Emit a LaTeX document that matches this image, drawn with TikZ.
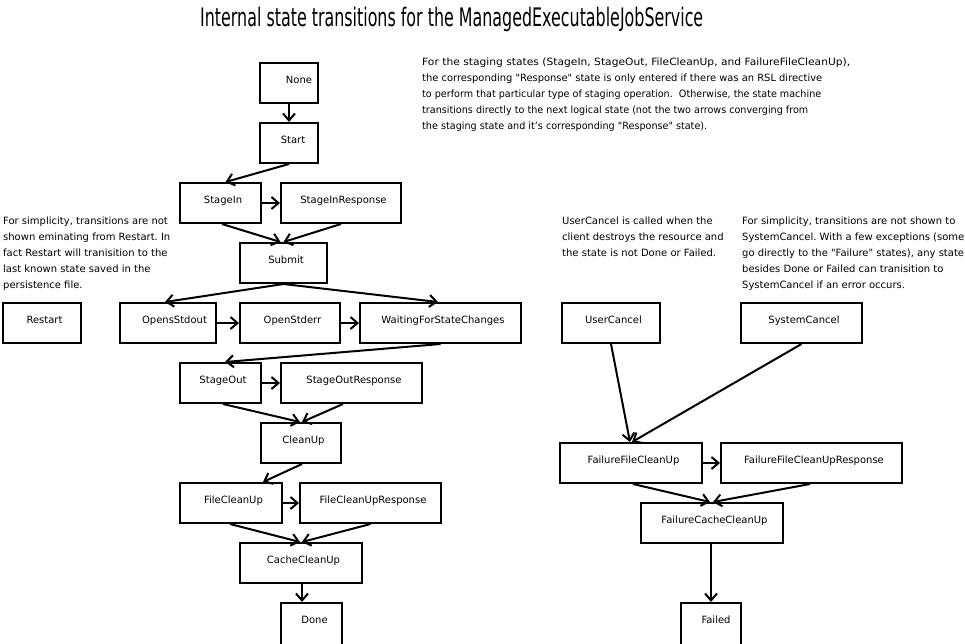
\documentclass[tikz,border=0pt]{standalone}
\usepackage{fontspec}
\setmainfont{DejaVu Sans}
\usepackage{graphicx}
\usetikzlibrary{arrows.meta}
\frenchspacing
\tikzset{
  box/.style={draw=black, line width=2pt, inner sep=0pt, text height=7pt, text depth=5.6pt,
    font=\fontsize{10}{12}\selectfont},
  arr/.style={draw=black, line width=2pt, -{Straight Barb[length=7pt,width=12pt]}},
  note/.style={anchor=base west, inner sep=0pt, font=\fontsize{10}{16}\selectfont},
}
\newcommand{\bx}[6]{\node[box, minimum width=#4pt, minimum height=#5pt] (#1) at (#2,#3) {\hspace*{5pt}#6};}
\newcommand{\fitline}[2]{\resizebox{#1pt}{\height}{#2}}
\newcommand{\q}{\textquotedbl}
\begin{document}
\begin{tikzpicture}[x=1pt,y=-1pt]
\useasboundingbox (0,0) rectangle (965,643);
\clip (0,0) rectangle (965,643);
\fill[white] (0,0) rectangle (965,643);

\node[anchor=base west, inner sep=0pt, font=\fontsize{25.5}{30}\selectfont] (title) at (200,26)
  {\resizebox{503pt}{\height}{Internal state transitions for the ManagedExecutableJobService}};

\node[note] (stagingnote) at (422,65) {\parbox[t]{520pt}{\raggedright
\fitline{428}{For the staging states (StageIn, StageOut, FileCleanUp, and FailureFileCleanUp),}\\
\fitline{400}{the corresponding \q Response\q{} state is only entered if there was an RSL directive}\\
\fitline{399}{to perform that particular type of staging operation.~ Otherwise, the state machine}\\
\fitline{386}{transitions directly to the next logical state (not the two arrows converging from}\\
\fitline{285}{the staging state and it's corresponding \q Response\q{} state).}}};

\node[note] (restartnote) at (3,224) {\parbox[t]{240pt}{\raggedright
For simplicity, transitions are not\\
shown eminating from Restart. In\\
fact Restart will tranisition to the\\
last known state saved in the\\
persistence file.}};

\node[note] (usernote) at (562,224) {\parbox[t]{180pt}{\raggedright
UserCancel is called when the\\
client destroys the resource and\\
the state is not Done or Failed.}};

\node[note] (systemnote) at (742,224) {\parbox[t]{230pt}{\raggedright
For simplicity, transitions are not shown to\\
SystemCancel. With a few exceptions (some\\
go directly to the \q Failure\q{} states), any state\\
besides Done or Failed can tranisition to\\
SystemCancel if an error occurs.}};

\bx{none}{289}{83}{58}{40}{\hspace*{15pt}None}
\bx{start}{289}{143}{58}{40}{\hspace*{3pt}Start}
\bx{stagein}{220.5}{203}{81}{40}{StageIn}
\bx{stageinresp}{341}{203}{120}{40}{StageInResponse}
\bx{submit}{283.5}{263}{87}{40}{Submit}
\bx{restart}{42}{323}{78}{40}{Restart}
\bx{opensstdout}{168}{323}{96}{40}{\hspace*{8pt}OpensStdout}
\bx{openstderr}{290}{323}{100}{40}{OpenStderr}
\bx{waiting}{440.5}{323}{161}{40}{WaitingForStateChanges}
\bx{stageout}{220.5}{383}{81}{40}{StageOut}
\bx{stageoutresp}{351.5}{383}{141}{40}{StageOutResponse}
\bx{cleanup}{301}{443}{80}{40}{CleanUp}
\bx{filecleanup}{231}{503}{102}{40}{FileCleanUp}
\bx{filecleanupresp}{370.5}{503}{141}{40}{FileCleanUpResponse}
\bx{cachecleanup}{301}{563}{122}{40}{CacheCleanUp}
\node[draw=black, line width=2pt, inner sep=0pt, minimum width=61pt, minimum height=50pt] (done) at (311.5,628) {};
\node[inner sep=0pt, font=\fontsize{10}{12}\selectfont, text height=7pt, text depth=5.6pt] (donelabel) at ([xshift=3pt]done.center |- 0,623) {Done};
\bx{usercancel}{611}{323}{98}{40}{UserCancel}
\bx{systemcancel}{801.5}{323}{121}{40}{SystemCancel}
\bx{ffc}{631}{463}{142}{40}{FailureFileCleanUp}
\bx{ffcr}{811.5}{463}{181}{40}{FailureFileCleanUpResponse}
\bx{fcc}{712}{523}{142}{40}{FailureCacheCleanUp}
\node[draw=black, line width=2pt, inner sep=0pt, minimum width=60pt, minimum height=50pt] (failed) at (711,628) {};
\node[inner sep=0pt, font=\fontsize{10}{12}\selectfont, text height=7pt, text depth=5.6pt] (failedlabel) at ([xshift=5pt]failed.center |- 0,623) {Failed};

\draw[arr] (none) -- (start);
\draw[arr] (start.south) -- ([xshift=5pt]stagein.north);
\draw[arr] (stagein) -- (stageinresp);
\draw[arr] ([xshift=1.5pt]stagein.south) -- ([xshift=-3pt]submit.north);
\draw[arr] (stageinresp.south) -- (submit.north);
\draw[arr] (submit.south) -- ([xshift=-3pt]opensstdout.north);
\draw[arr] (submit.south) -- ([xshift=-2.5pt]waiting.north);
\draw[arr] (opensstdout) -- (openstderr);
\draw[arr] (openstderr) -- (waiting);
\draw[arr] (waiting.south) -- ([xshift=4.5pt]stageout.north);
\draw[arr] (stageout) -- (stageoutresp);
\draw[arr] ([xshift=2.5pt]stageout.south) -- ([xshift=-1pt]cleanup.north);
\draw[arr] ([xshift=-8.5pt]stageoutresp.south) -- ([xshift=1pt]cleanup.north);
\draw[arr] ([xshift=1pt]cleanup.south) -- ([xshift=32pt]filecleanup.north);
\draw[arr] (filecleanup) -- (filecleanupresp);
\draw[arr] ([xshift=-1pt]filecleanup.south) -- ([xshift=-1pt]cachecleanup.north);
\draw[arr] (filecleanupresp.south) -- ([xshift=1pt]cachecleanup.north);
\draw[arr] ([xshift=1pt]cachecleanup.south) -- ([xshift=-9.5pt]done.north);
\draw[arr] (usercancel.south) -- ([xshift=-1pt]ffc.north);
\draw[arr] (systemcancel.south) -- ([xshift=1pt]ffc.north);
\draw[arr] (ffc) -- (ffcr);
\draw[arr] ([xshift=2pt]ffc.south) -- ([xshift=-2pt]fcc.north);
\draw[arr] ([xshift=-1.5pt]ffcr.south) -- ([xshift=1pt]fcc.north);
\draw[arr] ([xshift=-1pt]fcc.south) -- (failed.north);
\end{tikzpicture}
\end{document}
